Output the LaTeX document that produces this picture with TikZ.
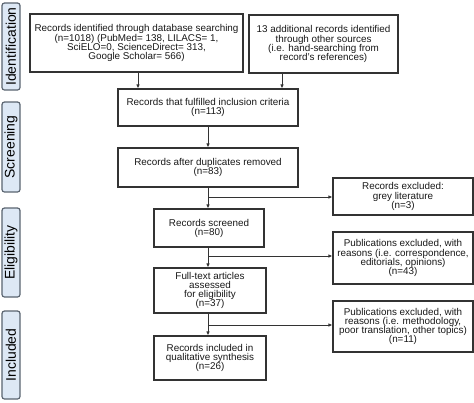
\documentclass[tikz,border=0pt]{standalone}
\usepackage{fontspec}
\setmainfont{Liberation Sans}
\usetikzlibrary{arrows.meta}
\definecolor{lblfill}{HTML}{DDE8F5}
\definecolor{lbldraw}{HTML}{5A6470}
\definecolor{boxdraw}{HTML}{333333}
\begin{document}
\begin{tikzpicture}[x=1bp,y=-1bp,
  box/.style={draw=boxdraw,line width=1.1bp,fill=white,align=center,inner sep=1bp,
    text=black!90,font={\fontsize{9.9}{9.1}\selectfont\lineskiplimit=-6pt}},
  phase/.style={draw=lbldraw,line width=1.2bp,fill=lblfill,rounded corners=2.5bp,rotate=90,
    minimum height=18bp,inner sep=0pt,font={\fontsize{14}{14}\selectfont}},
  arr/.style={draw=boxdraw,line width=0.8bp,-{Latex[length=4bp,width=3.5bp]}}]
\useasboundingbox (0,0) rectangle (474,402);
% phase labels
\node[phase,minimum width=87bp] (pid) at (11,46.5) {Identification};
\node[phase,minimum width=90bp] (psc) at (11,147) {Screening};
\node[phase,minimum width=89bp] (pel) at (11,252.5) {Eligibility};
\node[phase,minimum width=88bp] (pin) at (11,355) {Included};
% boxes
\node[box,minimum width=213bp,minimum height=58bp] (db) at (136.5,43)
  {Records identified through database searching\\(n=1018) (PubMed= 138, LILACS= 1,\\SciELO=0, ScienceDirect= 313,\\Google Scholar= 566)};
\node[box,minimum width=149bp,minimum height=58bp] (oth) at (323.5,44)
  {13 additional records identified\\through other sources\\(i.e. hand-searching from\\record's references)};
\node[box,minimum width=180bp,minimum height=37bp] (inc) at (208,107.5)
  {Records that fulfilled inclusion criteria\\(n=113)};
\node[box,minimum width=180bp,minimum height=39bp] (dup) at (208,167.5)
  {Records after duplicates removed\\(n=83)};
\node[box,minimum width=110bp,minimum height=38bp] (scr) at (209,228)
  {Records screened\\(n=80)};
\node[box,minimum width=112bp,minimum height=45bp] (ft) at (210,290.5)
  {Full-text articles\\assessed\\for eligibility\\(n=37)};
\node[box,minimum width=112bp,minimum height=44bp] (qs) at (210,358)
  {Records included in\\qualitative synthesis\\(n=26)};
\node[box,minimum width=140bp,minimum height=37bp] (ex1) at (403,196.5)
  {Records excluded:\\grey literature\\(n=3)};
\node[box,minimum width=140bp,minimum height=52bp] (ex2) at (403,258)
  {Publications excluded, with\\reasons (i.e. correspondence,\\editorials, opinions)\\(n=43)};
\node[box,minimum width=140bp,minimum height=51bp] (ex3) at (403,326.5)
  {Publications excluded, with\\reasons (i.e. methodology,\\poor translation, other topics)\\(n=11)};
% connectors
\draw[arr] (db.south -| 138,0) -- (inc.north -| 138,0);
\draw[arr] (oth.south -| 282,0) -- (inc.north -| 282,0);
\draw[arr] (inc.south -| 208,0) -- (dup.north -| 208,0);
\draw[arr] (dup.south -| 208,0) -- (scr.north -| 208,0);
\draw[arr] (scr.south -| 208,0) -- (ft.north -| 208,0);
\draw[arr] (ft.south -| 208,0) -- (qs.north -| 208,0);
\coordinate (b1) at (208,197);
\coordinate (b2) at (208,256);
\coordinate (b3) at (208,325);
\draw[arr] (b1) -- (b1 -| ex1.west);
\draw[arr] (b2) -- (b2 -| ex2.west);
\draw[arr] (b3) -- (b3 -| ex3.west);
\end{tikzpicture}
\end{document}
